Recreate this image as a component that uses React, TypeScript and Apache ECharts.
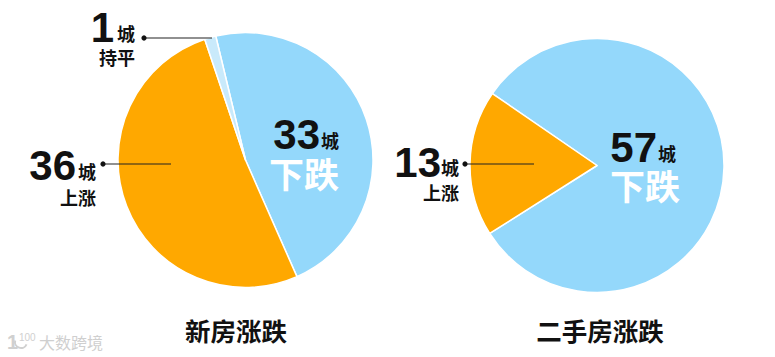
import React, { useEffect, useRef } from "react";
import * as echarts from "echarts";

const leftNames = ["下跌", "上涨", "持平"];
const leftValues = [33, 36, 1];
const rightNames = ["下跌", "上涨"];
const rightValues = [57, 13];
const titles = ["新房涨跌", "二手房涨跌"];
const unit = "城";
const watermark = "大数跨境";

const BLUE = "#94d8fb", ORANGE = "#ffa800", PALE = "#c9eafb", INK = "#111111";
const CJK = '"Noto Sans CJK SC"';
const NUM = '"Liberation Sans"';

const text = (x: number, y: number, t: string, size: number, fill: string, family: string, align = "left") => ({
  type: "text", x, y, z: 10,
  style: { text: t, fontSize: size, fontWeight: "bold", fontFamily: family, fill, textAlign: align, textVerticalAlign: "middle" },
});
const leader = (x1: number, y: number, x2: number) => [
  { type: "line", z: 10, shape: { x1, y1: y, x2, y2: y }, style: { stroke: "#222222", lineWidth: 1.2 } },
  { type: "circle", z: 10, shape: { cx: x1, cy: y, r: 2.6 }, style: { fill: "#111111" } },
];

export default function App() {
  const ref = useRef<HTMLDivElement>(null);
  useEffect(() => {
    document.body.style.margin = "0";
    const chart = echarts.init(ref.current!, null, { renderer: "svg" });
    const pie = (center: number[], radius: number, startAngle: number, names: string[], values: number[], colors: string[]) => ({
      type: "pie", center, radius: [0, radius], startAngle, clockwise: true, silent: true,
      label: { show: false }, labelLine: { show: false },
      itemStyle: { borderColor: "#ffffff", borderWidth: 1.5 },
      data: values.map((value, i) => ({ name: names[i], value, itemStyle: { color: colors[i] } })),
    });
    chart.setOption({
      animation: false,
      backgroundColor: "#ffffff",
      series: [
        pie([245.5, 160], 127.5, 103.5, leftNames, leftValues, [BLUE, ORANGE, PALE]),
        pie([597, 165.5], 127, 145.5, rightNames, rightValues, [BLUE, ORANGE]),
      ],
      graphic: [
        ...leader(144, 38, 212),
        ...leader(103, 164, 171),
        ...leader(465, 164, 534),
        text(114, 27, String(leftValues[2]), 42, INK, NUM, "right"),
        text(117, 33, unit, 18, INK, CJK),
        text(135, 57, leftNames[2], 18, INK, CJK, "right"),
        text(76, 165, String(leftValues[1]), 42, INK, NUM, "right"),
        text(78, 171, unit, 18, INK, CJK),
        text(96, 197, leftNames[1], 18, INK, CJK, "right"),
        text(320, 134, String(leftValues[0]), 42, INK, NUM, "right"),
        text(321, 140, unit, 18, INK, CJK),
        text(269, 172, leftNames[0], 35, "#ffffff", CJK),
        text(441, 162, String(rightValues[1]), 42, INK, NUM, "right"),
        text(441, 167, unit, 18, INK, CJK),
        text(459, 192, rightNames[1], 18, INK, CJK, "right"),
        text(657, 147, String(rightValues[0]), 42, INK, NUM, "right"),
        text(658, 153, unit, 18, INK, CJK),
        text(610, 184, rightNames[0], 35, "#ffffff", CJK),
        text(236, 329, titles[0], 25.5, INK, CJK, "center"),
        text(600, 329, titles[1], 25.5, INK, CJK, "center"),
        { type: "text", x: 7, y: 342, z: 10, style: { text: "1", fontSize: 20, fontWeight: "bold", fontFamily: NUM, fill: "#d0d0d0", textVerticalAlign: "middle" } },
        { type: "arc", z: 10, shape: { cx: 21, cy: 342, r: 6, startAngle: 0.4, endAngle: 3.4, clockwise: true }, style: { stroke: "#d0d0d0", lineWidth: 2, fill: "none" } },
        { type: "text", x: 19, y: 337, z: 10, style: { text: "100", fontSize: 10, fontFamily: NUM, fill: "#d0d0d0", textVerticalAlign: "middle" } },
        { type: "text", x: 39, y: 342, z: 10, style: { text: watermark, fontSize: 16, fontFamily: CJK, fill: "#cfcfcf", textVerticalAlign: "middle" } },
      ],
    });
    return () => chart.dispose();
  }, []);
  return <div ref={ref} style={{ width: 775, height: 357 }} />;
}
